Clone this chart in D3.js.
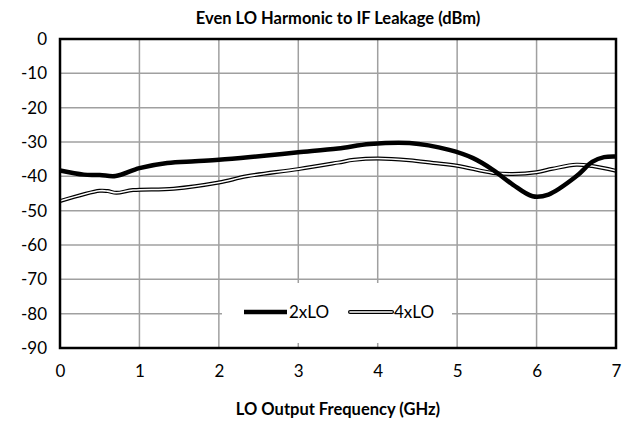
<!DOCTYPE html>
<html>
<head>
<meta charset="utf-8">
<script src="https://cdn.jsdelivr.net/npm/d3@7"></script>
<style>
  body { margin: 0; background: #fff; }
  svg { display: block; font-family: Lato, "Open Sans", sans-serif; }
</style>
</head>
<body>
<svg width="632" height="422"></svg>
<script>
// data
var freq2 = [0, 0.3, 0.5, 0.7, 1.0, 1.35, 1.7, 2.0, 2.4, 2.7, 3.0, 3.5, 3.9, 4.4, 4.9, 5.2, 5.45, 5.7, 5.95, 6.15, 6.5, 6.7, 6.85, 7.0];
var lo2 = [-38.3, -39.5, -39.6, -39.9, -37.6, -36.1, -35.6, -35.2, -34.4, -33.7, -33.0, -31.9, -30.6, -30.3, -32.3, -34.7, -38.1, -42.4, -45.8, -45.3, -40.0, -35.8, -34.4, -34.2];
var freq4 = [0, 0.5, 0.6, 0.71, 0.92, 1.43, 2.0, 2.35, 3.0, 3.5, 3.7, 4.0, 4.4, 4.7, 5.0, 5.45, 5.7, 6.0, 6.2, 6.5, 6.7, 7.0];
var lo4 = [-47.2, -44.2, -44.3, -44.8, -44.0, -43.6, -41.8, -40.0, -37.9, -36.0, -35.2, -34.8, -35.3, -36.1, -36.9, -39.0, -39.3, -38.8, -37.8, -36.6, -37.0, -38.4];
var xTicks = [0, 1, 2, 3, 4, 5, 6, 7];
var yTicks = [0, -10, -20, -30, -40, -50, -60, -70, -80, -90];
var seriesNames = ["2xLO", "4xLO"];

var svg = d3.select("svg");
var margin = {left: 60, right: 16, top: 39, bottom: 74};
var width = 632 - margin.left - margin.right,
    height = 422 - margin.top - margin.bottom;

var x = d3.scaleLinear().domain([0, 7]).range([0, width]);
var y = d3.scaleLinear().domain([-90, 0]).range([height, 0]);

var g = svg.append("g").attr("transform", "translate(" + margin.left + "," + margin.top + ")");

// gridlines
g.selectAll(".vgrid").data(xTicks).enter().append("line")
    .attr("x1", d => x(d)).attr("x2", d => x(d))
    .attr("y1", 0).attr("y2", height)
    .attr("stroke", "#a0a0a0").attr("stroke-width", 1.5);
g.selectAll(".hgrid").data(yTicks).enter().append("line")
    .attr("x1", 0).attr("x2", width)
    .attr("y1", d => y(d)).attr("y2", d => y(d))
    .attr("stroke", "#a0a0a0").attr("stroke-width", 1.5);

// axes labels via d3 axes
var fmt = d => String(d);
var xAxis = g.append("g").attr("transform", "translate(0," + height + ")")
    .call(d3.axisBottom(x).tickValues(xTicks).tickFormat(fmt).tickSize(0).tickPadding(17));
var yAxis = g.append("g")
    .call(d3.axisLeft(y).tickValues(yTicks).tickFormat(fmt).tickSize(0).tickPadding(13));
[xAxis, yAxis].forEach(function(a) {
  a.select(".domain").remove();
  a.selectAll("text").attr("font-size", 17).attr("fill", "#000")
    .attr("font-family", "Lato, 'Open Sans', sans-serif");
});

// lines
var line = d3.line()
    .x(d => x(d[0])).y(d => y(d[1]))
    .curve(d3.curveCatmullRom.alpha(0.5));

var pts4 = freq4.map((f, i) => [f, lo4[i]]);
var pts2 = freq2.map((f, i) => [f, lo2[i]]);

g.append("path").datum(pts4).attr("d", line)
    .attr("fill", "none").attr("stroke", "#000").attr("stroke-width", 4);
g.append("path").datum(pts4).attr("d", line)
    .attr("fill", "none").attr("stroke", "#fff").attr("stroke-width", 1.6);
g.append("path").datum(pts2).attr("d", line)
    .attr("fill", "none").attr("stroke", "#000").attr("stroke-width", 4.5)
    .attr("stroke-linejoin", "round");

// legend
var legend = svg.append("g").attr("transform", "translate(222,283)");
legend.append("rect").attr("width", 230).attr("height", 60).attr("fill", "#fff");
legend.append("line").attr("x1", 22).attr("x2", 65).attr("y1", 29).attr("y2", 29)
    .attr("stroke", "#000").attr("stroke-width", 4.5);
legend.append("text").attr("x", 67).attr("y", 35).attr("font-size", 17).text(seriesNames[0]);
legend.append("line").attr("x1", 128).attr("x2", 170).attr("y1", 29).attr("y2", 29)
    .attr("stroke", "#000").attr("stroke-width", 4).attr("stroke-linecap", "round");
legend.append("line").attr("x1", 128).attr("x2", 170).attr("y1", 29).attr("y2", 29)
    .attr("stroke", "#fff").attr("stroke-width", 1.6).attr("stroke-linecap", "round");
legend.append("text").attr("x", 172).attr("y", 35).attr("font-size", 17).text(seriesNames[1]);

// plot border
g.append("rect").attr("width", width).attr("height", height)
    .attr("fill", "none").attr("stroke", "#000").attr("stroke-width", 2.5);

// titles
svg.append("text").attr("x", 338).attr("y", 24).attr("text-anchor", "middle")
    .attr("font-size", 16.5).attr("font-weight", "bold")
    .text("Even LO Harmonic to IF Leakage (dBm)");
svg.append("text").attr("x", 338).attr("y", 415).attr("text-anchor", "middle")
    .attr("font-size", 16.5).attr("font-weight", "bold")
    .text("LO Output Frequency (GHz)");
</script>
</body>
</html>
